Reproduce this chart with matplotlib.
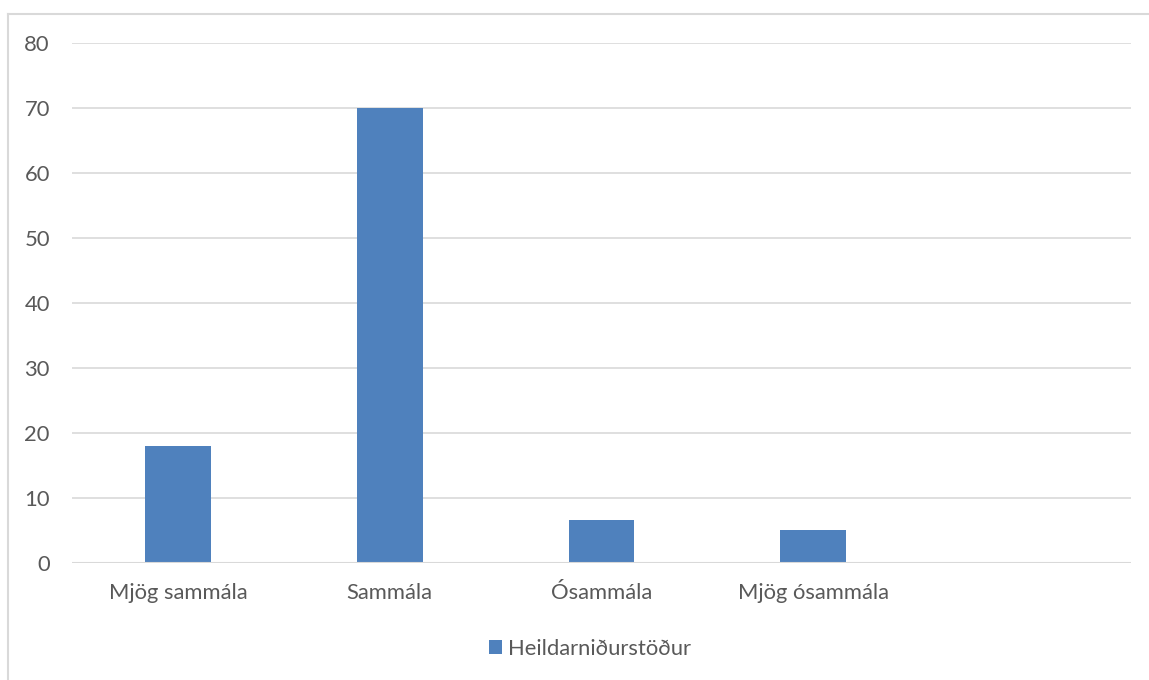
import matplotlib
matplotlib.use("Agg")
import matplotlib.pyplot as plt
from matplotlib.lines import Line2D
from matplotlib.patches import Patch

categories = ["Mjög sammála", "Sammála", "Ósammála", "Mjög ósammála", ""]
values = [18.0, 70.0, 6.6, 5.1, None]
series_name = "Heildarniðurstöður"
yticks = [0, 10, 20, 30, 40, 50, 60, 70, 80]

W, H = 1149, 680
fig = plt.figure(figsize=(W / 100, H / 100), dpi=100)
plt.rcParams['font.family'] = ['Lato', 'DejaVu Sans']

left, right, top, bottom = 72, 1131, 43.3, 563.3
ax = fig.add_axes([left / W, 1 - bottom / H, (right - left) / W, (bottom - top) / H])

bar_color = "#4f81bd"
text_color = "#595959"
grid_color = "#d9d9d9"
fs = 15.8

xs = list(range(len(categories)))
for x, v in zip(xs, values):
    if v is not None:
        ax.bar(x, v, width=0.31, color=bar_color, zorder=3)

ax.set_xlim(-0.5, len(categories) - 0.5)
ax.set_ylim(0, 80)
ax.set_yticks(yticks)
ax.set_yticklabels([str(t) for t in yticks])
ax.set_xticks(xs)
ax.set_xticklabels(categories)
ax.grid(axis='y', color=grid_color, linewidth=1.2, zorder=0)
ax.tick_params(axis='both', length=0, labelsize=fs, colors=text_color)
ax.tick_params(axis='y', pad=16)
ax.tick_params(axis='x', pad=14)
for s in ax.spines.values():
    s.set_visible(False)
ax.axhline(0, color=grid_color, linewidth=1.5, zorder=4)

# outer chart border
fig.add_artist(Line2D([8 / W, 8 / W], [0, 1 - 14 / H], transform=fig.transFigure, color=grid_color, linewidth=1.5))
fig.add_artist(Line2D([8 / W, 1], [1 - 14 / H, 1 - 14 / H], transform=fig.transFigure, color=grid_color, linewidth=1.5))

handles = [Patch(facecolor=bar_color, edgecolor='none', label=series_name)]
leg = fig.legend(handles=handles, loc='center', bbox_to_anchor=(590 / W, 1 - 649 / H),
                 frameon=False, fontsize=fs, handlelength=0.6, handleheight=0.6,
                 handletextpad=0.3, labelcolor=text_color)

fig.savefig("out.png", dpi=100, facecolor="white")
